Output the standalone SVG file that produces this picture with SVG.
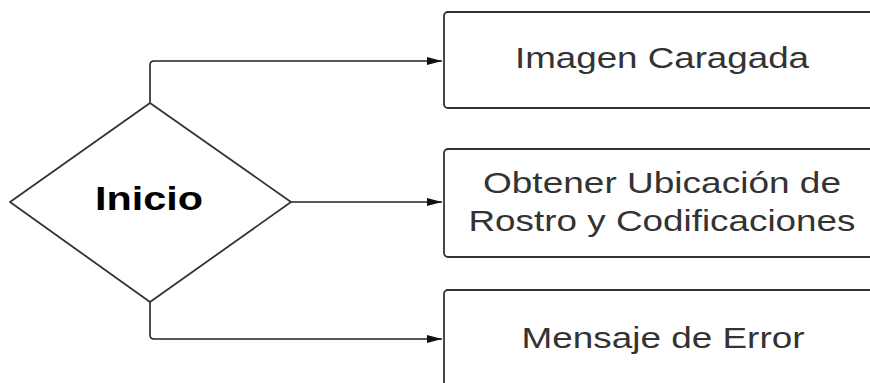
<svg xmlns="http://www.w3.org/2000/svg" width="870" height="383" viewBox="0 0 870 383">
  <style>
    .shape { fill: #ffffff; stroke: #333333; stroke-width: 1.8; stroke-linejoin: round; }
    .conn { fill: none; stroke: #222222; stroke-width: 1.6; }
    .lbl { font-family: "Liberation Sans", Arial, sans-serif; font-size: 30px; fill: #333333; text-anchor: middle; }
    .bold { font-family: "Liberation Sans", Arial, sans-serif; font-size: 34px; font-weight: bold; fill: #000000; text-anchor: middle; }
  </style>
  <defs>
    <marker id="arrow" markerUnits="userSpaceOnUse" markerWidth="16" markerHeight="10" refX="15" refY="5" orient="auto">
      <path d="M0,1 L15,5 L0,9 Z" fill="#111111"/>
    </marker>
  </defs>
  <rect width="870" height="383" fill="#ffffff"/>
  <g id="connectors">
    <path class="conn" d="M150,103 L150,65 Q150,61 154,61 L442,61" marker-end="url(#arrow)"/>
    <path class="conn" d="M291,202 L442,202" marker-end="url(#arrow)"/>
    <path class="conn" d="M150,302 L150,335 Q150,339 154,339 L442,339" marker-end="url(#arrow)"/>
  </g>
  <g id="inicio">
    <polygon class="shape" points="10,202 150,103 291,202 150,302"/>
    <text class="bold" x="149" y="210" textLength="108" lengthAdjust="spacingAndGlyphs">Inicio</text>
  </g>
  <g id="imagen">
    <rect class="shape" x="444" y="12" width="440" height="96" rx="4"/>
    <text class="lbl" x="662" y="68" textLength="294" lengthAdjust="spacingAndGlyphs">Imagen Caragada</text>
  </g>
  <g id="obtener">
    <rect class="shape" x="444" y="149" width="440" height="108" rx="4"/>
    <text class="lbl" x="662" y="193" textLength="358" lengthAdjust="spacingAndGlyphs">Obtener Ubicación de</text>
    <text class="lbl" x="662" y="231" textLength="387" lengthAdjust="spacingAndGlyphs">Rostro y Codificaciones</text>
  </g>
  <g id="error">
    <rect class="shape" x="444" y="290" width="440" height="120" rx="4"/>
    <text class="lbl" x="663" y="348" textLength="283" lengthAdjust="spacingAndGlyphs">Mensaje de Error</text>
  </g>
</svg>
